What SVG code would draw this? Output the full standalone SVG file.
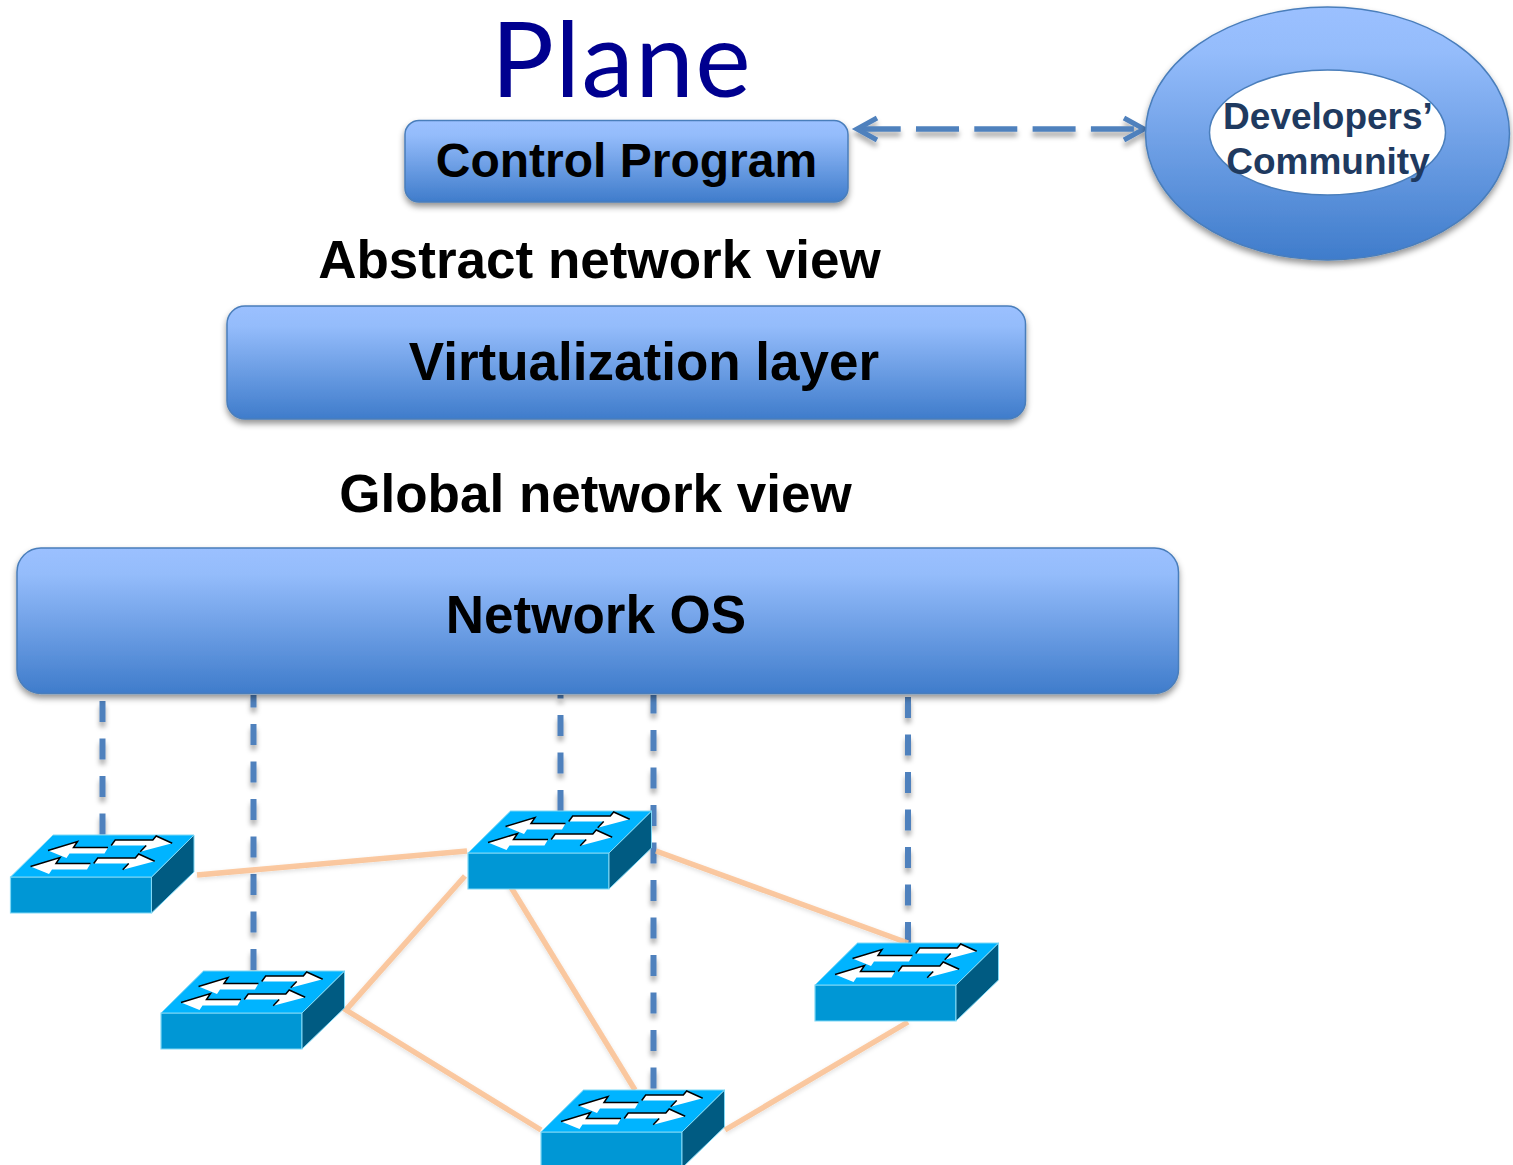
<svg xmlns="http://www.w3.org/2000/svg" xmlns:xlink="http://www.w3.org/1999/xlink" width="1513" height="1165" viewBox="0 0 1513 1165">
<style>
.b{font-family:"Liberation Sans",Arial,sans-serif;font-weight:bold;fill:#000}
.box{fill:url(#g);stroke:#4a7ebb;stroke-width:1.5;filter:url(#s)}
.dash{fill:none;stroke:#4f81bd;stroke-width:6;stroke-dasharray:21 16.500;filter:url(#ls)}
.org{fill:none;stroke:#fac090;stroke-width:5.500;stroke-opacity:.85;filter:url(#ls2)}
.top{fill:#00b4ff;stroke:#7fd8f5;stroke-width:1}
.front{fill:#0097d5;stroke:#7fd8f5;stroke-width:1.2}
.side{fill:#005b82;stroke:#7fd8f5;stroke-width:1}
.ar{fill:#fff;stroke:none}
.as{fill:none;stroke:#000;stroke-width:1.500}
</style>
<defs>
<linearGradient id="g" x1="0" y1="0" x2="0" y2="1"><stop offset="0" stop-color="#9bc0ff"/><stop offset=".18" stop-color="#94bcfb"/><stop offset="1" stop-color="#3f7ccb"/></linearGradient>
<filter id="s" x="-5%" y="-10%" width="110%" height="125%"><feDropShadow dx="0" dy="4" stdDeviation="3" flood-color="#000" flood-opacity=".42"/></filter>
<filter id="ls" filterUnits="userSpaceOnUse" x="0" y="0" width="1513" height="1165"><feDropShadow dx="0" dy="5" stdDeviation="2.500" flood-color="#000" flood-opacity=".33"/></filter>
<filter id="ls2" filterUnits="userSpaceOnUse" x="0" y="0" width="1513" height="1165"><feDropShadow dx="0" dy="2" stdDeviation="2" flood-color="#000" flood-opacity=".14"/></filter>
<marker id="ah" markerUnits="userSpaceOnUse" markerWidth="36" markerHeight="36" refX="26" refY="18" orient="auto-start-reverse"><path d="M6 7 L26 18 L6 29" fill="none" stroke="#4f81bd" stroke-width="5"/></marker>
<g id="sw">
<polygon class="front" points="0,42 141,42 141,78 0,78"/>
<polygon class="side" points="141,42 183.500,0 183.500,37 141,78"/>
<polygon class="top" points="42.500,0 183.500,0 141,42 0,42"/>
<polygon class="ar" points="37.500,15.500 67,6.500 63,12.500 97.500,12.500 94,18.500 59,18.500 56,23"/>
<polyline class="as" points="37.500,15.500 67,6.500 63,12.500 97.500,12.500"/>
<polygon class="ar" points="161.700,8.300 145.700,1 142.300,5 104.700,5 100.700,10.500 135.700,10.500 129.700,16.700"/>
<polyline class="as" points="100.700,10.500 104.700,5 142.300,5 145.700,1 161.700,8.300"/>
<polyline class="as" points="135.700,10.500 129.700,16.700"/>
<polygon class="ar" points="20,31.500 49.500,22.500 45.500,28.500 80,28.500 76.500,34.500 41.500,34.500 38.500,39"/>
<polyline class="as" points="20,31.500 49.500,22.500 45.500,28.500 80,28.500"/>
<polygon class="ar" points="144.200,26.300 128.200,19 124.800,23 87.200,23 83.200,28.500 118.200,28.500 112.200,34.700"/>
<polyline class="as" points="83.200,28.500 87.200,23 124.800,23 128.200,19 144.200,26.300"/>
<polyline class="as" points="118.200,28.500 112.200,34.700"/>
</g>
</defs>
<rect width="1513" height="1165" fill="#fff"/>
<g id="connectors">
<path class="dash" style="stroke-dashoffset:31.500" d="M102.500 695V835"/>
<path class="dash" style="stroke-dashoffset:8.500" d="M253.500 695V971"/>
<path class="dash" style="stroke-dashoffset:17.500" d="M560.500 695V811"/>
<path class="dash" style="stroke-dashoffset:2.500" d="M653.500 695V1090"/>
<path class="dash" d="M908 697V943"/>
<path class="org" d="M197 875L467 851"/>
<path class="org" d="M465 876L346 1010L541 1130"/>
<path class="org" d="M509 884L635 1090"/>
<path class="org" d="M656 851L908 943"/>
<path class="org" d="M725 1130L908 1022"/>
<path d="M857 129H1144" fill="none" stroke="#4f81bd" stroke-width="5.500" stroke-dasharray="43 15.300" stroke-dashoffset="-0.700" filter="url(#ls)" marker-start="url(#ah)" marker-end="url(#ah)"/>
</g>
<g id="title"><text x="491" y="97" font-family="Lato,sans-serif" font-size="105" letter-spacing="1.500" fill="#00008f">Plane</text></g>
<g id="control-program"><rect class="box" x="405" y="120.500" width="443" height="81.500" rx="14"/><text class="b" x="626.500" y="177" font-size="48" text-anchor="middle">Control Program</text></g>
<g id="abstract-label"><text class="b" x="599.500" y="278" font-size="53" text-anchor="middle">Abstract network view</text></g>
<g id="virtualization-layer"><rect class="box" x="227" y="306" width="798.500" height="113" rx="18"/><text class="b" x="644" y="380" font-size="53" text-anchor="middle">Virtualization layer</text></g>
<g id="global-label"><text class="b" x="595.500" y="512" font-size="53" text-anchor="middle">Global network view</text></g>
<g id="network-os"><rect class="box" x="17" y="548" width="1161.500" height="145.500" rx="24"/><text class="b" x="596" y="633" font-size="53" text-anchor="middle">Network OS</text></g>
<g id="developers"><ellipse cx="1327.500" cy="133.500" rx="182" ry="126.500" fill="url(#g)" stroke="#4a7ebb" stroke-width="1.500" filter="url(#s)"/><ellipse cx="1327.500" cy="132.500" rx="118" ry="62.500" fill="#fff" stroke="#4a7ebb" stroke-width="1.500"/><text class="b" x="1328" y="129" font-size="37" text-anchor="middle" style="fill:#1f3a60">Developers’</text><text class="b" x="1328" y="174" font-size="37" text-anchor="middle" style="fill:#1f3a60">Community</text></g>
<use id="switch-1" xlink:href="#sw" href="#sw" x="10.500" y="835"/>
<use id="switch-2" xlink:href="#sw" href="#sw" x="161" y="971"/>
<use id="switch-3" xlink:href="#sw" href="#sw" x="468" y="811"/>
<use id="switch-4" xlink:href="#sw" href="#sw" x="815" y="943"/>
<use id="switch-5" xlink:href="#sw" href="#sw" x="541" y="1090"/>
</svg>
